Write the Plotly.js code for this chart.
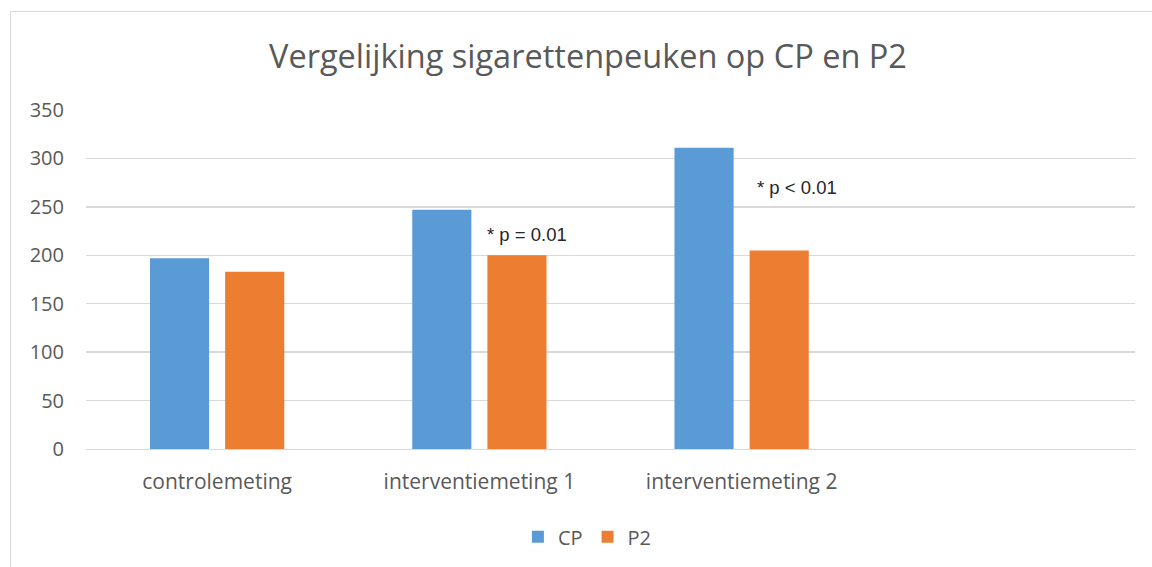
<!DOCTYPE html>
<html>
<head>
<meta charset="utf-8">
<script src="https://cdn.plot.ly/plotly-3.0.1.min.js"></script>
<style>
html,body{margin:0;padding:0;background:#fff;}
#frame{position:absolute;left:10px;top:11px;width:1160px;height:600px;border-left:1px solid #d9d9d9;border-top:1px solid #d9d9d9;}
#chart{position:absolute;left:0;top:0;width:1152px;height:567px;}
</style>
</head>
<body>
<div id="frame"></div>
<div id="chart"></div>
<script>
const categories = ['controlemeting', 'interventiemeting 1', 'interventiemeting 2'];
const axisCategories = ['controlemeting', 'interventiemeting 1', 'interventiemeting 2', ' '];
const cpValues = [197, 247, 311];
const p2Values = [183, 200, 205];
const seriesNames = ['CP', 'P2'];
const annotationTexts = ['* p = 0.01', '* p < 0.01'];

const traces = [
  {type:'bar', name:seriesNames[0], x:categories, y:cpValues, marker:{color:'#5B9BD5'}, hoverinfo:'none'},
  {type:'bar', name:seriesNames[1], x:categories, y:p2Values, marker:{color:'#ED7D31'}, hoverinfo:'none'}
];

const layout = {
  width:1152, height:567,
  paper_bgcolor:'rgba(0,0,0,0)', plot_bgcolor:'rgba(0,0,0,0)',
  margin:{l:86, r:17, t:110, b:117},
  barmode:'group', bargap:0.427, bargroupgap:0.213,
  font:{family:'Open Sans, sans-serif', color:'#595959'},
  title:{text:'Vergelijking sigarettenpeuken op CP en P2', x:588/1152, xref:'container', xanchor:'center', y:0.9, yref:'container', yanchor:'middle',
         font:{family:'Open Sans, sans-serif', size:32.5, color:'#595959'}},
  xaxis:{type:'category', categoryorder:'array', categoryarray:axisCategories, range:[-0.5, 3.5],
         showgrid:false, showline:true, linecolor:'#d9d9d9', linewidth:1.3, ticks:'', zeroline:false,
         tickfont:{size:21, color:'#595959'}, ticklabelstandoff:13, fixedrange:true},
  yaxis:{range:[0,350], dtick:50, showgrid:true, gridcolor:'#d9d9d9', gridwidth:1.3, zeroline:false,
         showline:false, ticks:'', tickfont:{size:20, color:'#595959'}, ticklabelstandoff:21, fixedrange:true},
  legend:{orientation:'h', x:0.478, xanchor:'center', y:-0.255, yanchor:'middle', font:{size:20, color:'#595959'},
          itemwidth:30, traceorder:'normal'},
  showlegend:true,
  annotations:[
    {text:annotationTexts[0], xref:'x', yref:'y', x:1.02, y:221, xanchor:'left', yanchor:'middle', showarrow:false,
     font:{family:'Liberation Sans, Arial, sans-serif', size:18.5, color:'#262626'}},
    {text:annotationTexts[1], xref:'x', yref:'y', x:2.05, y:270, xanchor:'left', yanchor:'middle', showarrow:false,
     font:{family:'Liberation Sans, Arial, sans-serif', size:18.5, color:'#262626'}}
  ]
};

Plotly.newPlot('chart', traces, layout, {displayModeBar:false, staticPlot:true});
</script>
</body>
</html>
